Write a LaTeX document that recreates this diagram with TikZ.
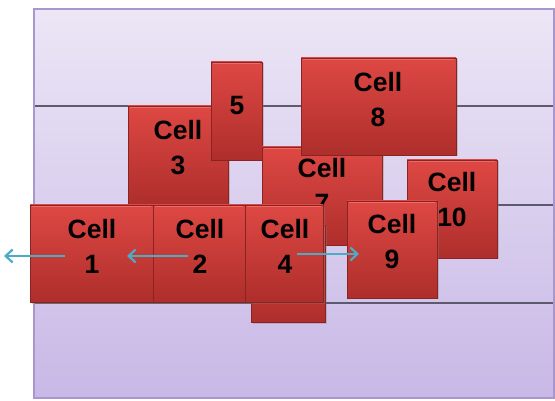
\documentclass[tikz,border=0pt]{standalone}
\usepackage{fontspec}
\setmainfont{Liberation Sans}
\usetikzlibrary{arrows.meta,shadows}
\definecolor{bgtop}{HTML}{ECE6F6}
\definecolor{bgbot}{HTML}{C8B8E6}
\definecolor{bgline}{HTML}{A896CC}
\definecolor{rowline}{HTML}{5E5A6E}
\definecolor{celltop}{HTML}{DE4844}
\definecolor{cellbot}{HTML}{AE2E2B}
\definecolor{cellline}{HTML}{8A2422}
\definecolor{cellhi}{HTML}{EC6D67}
\definecolor{arrowc}{HTML}{4BACC6}
\tikzset{
  cell/.style={draw=cellline, line width=0.7pt, top color=celltop, bottom color=cellbot,
    inner sep=0pt, drop shadow={shadow xshift=1.5pt, shadow yshift=-1.5pt, opacity=0.35},
    path picture={\draw[cellhi, line width=2pt]
      ([xshift=2pt,yshift=-1.5pt]path picture bounding box.north west) --
      ([xshift=-2pt,yshift=-1.5pt]path picture bounding box.north east);}},
  lbl/.style={align=center, inner sep=0pt, font=\fontsize{26.5}{35}\selectfont\bfseries, text=black},
  flow/.style={draw=arrowc, line width=2.5pt, -{Straight Barb[length=7pt,width=13pt,line width=2.2pt]}},
  row/.style={draw=rowline, line width=1.4pt}
}
\begin{document}
\begin{tikzpicture}[x=1pt,y=-1pt]
\useasboundingbox (0,0) rectangle (555,401);
% background
\shade[top color=bgtop, bottom color=bgbot] (34,9) rectangle (554,398);
\draw[row] (34,106) -- (554,106);
\draw[row] (34,205) -- (554,205);
\draw[row] (34,303) -- (554,303);
\draw[bgline, line width=1.2pt] (34,9) rectangle (554,398);
% cells
\node[cell, minimum width=100pt, minimum height=98pt] (c3) at (178,155) {};
\node[lbl] (c3t) at (178,147.5) {Cell\\3};
\node[cell, minimum width=51pt, minimum height=98pt] (c5) at (236.5,111) {};
\node[lbl] (c5t) at (237,106) {5};
\node[cell, minimum width=120pt, minimum height=98pt] (c7) at (322,196) {};
\node[lbl] (c7t) at (322,185) {Cell\\7};
\node[cell, minimum width=155pt, minimum height=97pt] (c8) at (378.5,106.5) {};
\node[lbl] (c8t) at (378,99.5) {Cell\\8};
\node[cell, minimum width=90pt, minimum height=98pt] (c10) at (452,209) {};
\node[lbl] (c10t) at (452,200) {Cell\\10};
\node[cell, minimum width=74pt, minimum height=97pt] (c6) at (288,273.5) {};
\node[cell, minimum width=123pt, minimum height=97pt] (c1) at (91.5,253.5) {};
\node[lbl] (c1t) at (92,246.5) {Cell\\1};
\node[cell, minimum width=92pt, minimum height=97pt] (c2) at (199,253.5) {};
\node[lbl] (c2t) at (200,246.5) {Cell\\2};
\node[cell, minimum width=78pt, minimum height=97pt] (c4) at (284,253.5) {};
\node[lbl] (c4t) at (285,246.5) {Cell\\4};
\node[cell, minimum width=90pt, minimum height=97pt] (c9) at (392,249.5) {};
\node[lbl] (c9t) at (392,242) {Cell\\9};
% arrows
\coordinate (a1s) at (65,256);
\coordinate (a1e) at (4,256);
\coordinate (a2s) at (188,256);
\coordinate (a2e) at (127,256);
\coordinate (a3s) at (297,254);
\coordinate (a3e) at (359,254);
\draw[flow] (a1s) -- (a1e);
\draw[flow] (a2s) -- (a2e);
\draw[flow] (a3s) -- (a3e);
\end{tikzpicture}
\end{document}
